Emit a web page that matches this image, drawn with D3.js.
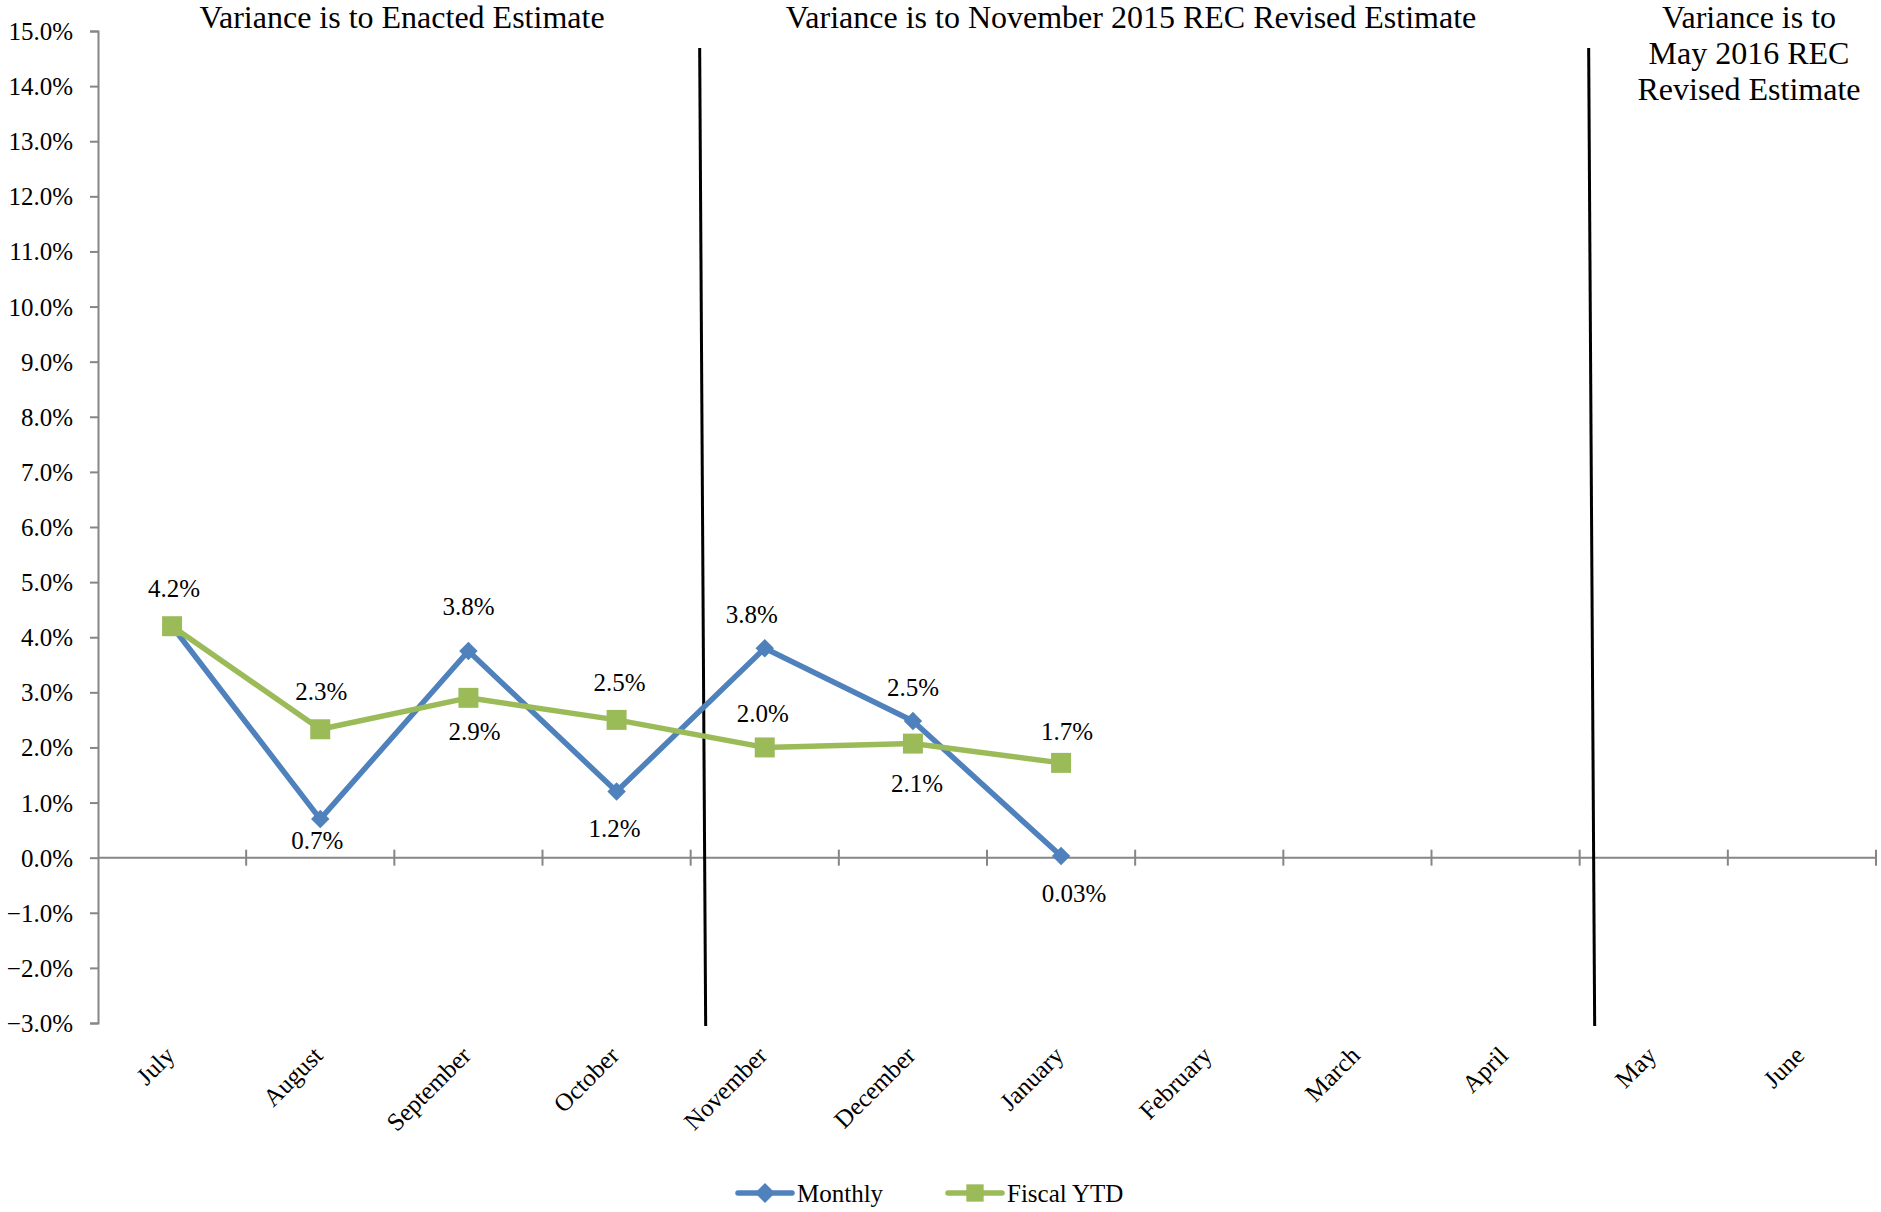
<!DOCTYPE html>
<html>
<head>
<meta charset="utf-8">
<script src="https://cdn.jsdelivr.net/npm/d3@7"></script>
<style>
  html, body { margin: 0; padding: 0; background: #fff; }
  svg text { font-family: "Liberation Serif", "Times New Roman", Times, serif; fill: #000; }
</style>
</head>
<body>
<svg id="chart" width="1881" height="1212"></svg>
<script>
// ---------- data ----------
const months = ["July", "August", "September", "October", "November", "December",
                "January", "February", "March", "April", "May", "June"];
const monthlyValues = [4.2, 0.7, 3.75, 1.2, 3.8, 2.48, 0.03];
const fiscalYTDValues = [4.2, 2.33, 2.9, 2.5, 2.0, 2.07, 1.72];
const monthlyLabels = ["4.2%", "0.7%", "3.8%", "1.2%", "3.8%", "2.5%", "0.03%"];
const fiscalYTDLabels = [null, "2.3%", "2.9%", "2.5%", "2.0%", "2.1%", "1.7%"];
const yTickValues = [-3, -2, -1, 0, 1, 2, 3, 4, 5, 6, 7, 8, 9, 10, 11, 12, 13, 14, 15];
const seriesNames = ["Monthly", "Fiscal YTD"];
const sectionTitles = [
  ["Variance is to Enacted Estimate"],
  ["Variance is to November 2015 REC Revised Estimate"],
  ["Variance is to", "May 2016 REC", "Revised Estimate"]
];
// months after which a section boundary line is drawn
const sectionBreaks = ["October", "April"];

// ---------- layout / style (not data) ----------
const plot = { left: 98, right: 1876, top: 31, bottom: 1023 };
const blue = "#4F81BD", green = "#9BBB59", axisGray = "#868686";
// label offsets [dx, dy] of label center from point
const monthlyLabelOffsets = [[2, -38], [-3, 21], [0, -45], [-2, 37], [-13, -34], [0, -33], [13, 37]];
const fiscalLabelOffsets = [[0, 0], [1, -38], [6, 34], [3, -37], [-2, -34], [4, 40], [6, -31]];

const svg = d3.select("#chart");

const x = d3.scaleBand().domain(months).range([plot.left, plot.right]).padding(0);
const y = d3.scaleLinear().domain([-3, 15]).range([plot.bottom, plot.top]);
const cx = m => x(m) + x.bandwidth() / 2;
const fmt = d => d3.format(".1f")(d) + "%";

// ---------- y axis ----------
const yAxis = d3.axisLeft(y).tickValues(yTickValues).tickFormat(fmt).tickSize(8).tickPadding(17);
const gy = svg.append("g").attr("transform", `translate(${plot.left},0)`).call(yAxis);
gy.select(".domain").attr("stroke", axisGray).attr("stroke-width", 2);
gy.selectAll(".tick line").attr("stroke", axisGray).attr("stroke-width", 2);
gy.selectAll(".tick text").attr("font-size", 25).attr("dy", "0.34em")
  .style("font-family", '"Liberation Serif", "Times New Roman", serif').attr("fill", "#000");

// ---------- x axis (at zero) ----------
const zeroY = y(0);
const gx = svg.append("g").attr("transform", `translate(0,${zeroY})`);
gx.append("line").attr("x1", plot.left).attr("x2", plot.right)
  .attr("y1", 0).attr("y2", 0).attr("stroke", axisGray).attr("stroke-width", 2);
const boundaries = months.map(m => x(m)).concat([x(months[months.length - 1]) + x.bandwidth()]);
gx.selectAll("line.tk").data(boundaries.slice(1)).join("line").attr("class", "tk")
  .attr("x1", d => d).attr("x2", d => d).attr("y1", -8).attr("y2", 8)
  .attr("stroke", axisGray).attr("stroke-width", 2);

// category labels rotated
svg.append("g").selectAll("text").data(months).join("text")
  .attr("transform", d => `translate(${cx(d) + 4},${plot.bottom + 34}) rotate(-45)`)
  .attr("text-anchor", "end").attr("font-size", 25).text(d => d);

// ---------- section boundary lines ----------
sectionBreaks.forEach(m => {
  const bx = x(m) + x.bandwidth();
  svg.append("line")
    .attr("x1", bx + 9).attr("y1", 48)
    .attr("x2", bx + 15).attr("y2", 1026)
    .attr("stroke", "#000").attr("stroke-width", 3);
});

// ---------- section titles ----------
const titleX = [402, 1131, 1749];
sectionTitles.forEach((lines, i) => {
  const t = svg.append("text").attr("text-anchor", "middle").attr("font-size", 32);
  lines.forEach((ln, j) => {
    t.append("tspan").attr("x", titleX[i]).attr("y", 28 + j * 36).text(ln);
  });
});

// ---------- series ----------
const line = d3.line().x(d => cx(d.m)).y(d => y(d.v));
const monthlyData = monthlyValues.map((v, i) => ({ m: months[i], v, label: monthlyLabels[i], off: monthlyLabelOffsets[i] }));
const fiscalData = fiscalYTDValues.map((v, i) => ({ m: months[i], v, label: fiscalYTDLabels[i], off: fiscalLabelOffsets[i] }));

const diamond = d3.symbol(d3.symbolSquare, 170);
const square = d3.symbol(d3.symbolSquare, 400);

function drawSeries(data, color, marker, rotate) {
  const g = svg.append("g");
  g.append("path").datum(data).attr("d", line).attr("fill", "none")
    .attr("stroke", color).attr("stroke-width", 5.5).attr("stroke-linejoin", "round");
  g.selectAll("path.mk").data(data).join("path").attr("class", "mk")
    .attr("d", marker)
    .attr("transform", d => `translate(${cx(d.m)},${y(d.v)}) rotate(${rotate})`)
    .attr("fill", color);
  return g;
}
drawSeries(monthlyData, blue, diamond, 45);
drawSeries(fiscalData, green, square, 0);

// data labels
const allLabels = monthlyData.concat(fiscalData).filter(d => d.label);
svg.append("g").selectAll("text").data(allLabels).join("text")
  .attr("x", d => cx(d.m) + d.off[0])
  .attr("y", d => y(d.v) + d.off[1])
  .attr("dy", "0.34em")
  .attr("text-anchor", "middle").attr("font-size", 25).text(d => d.label);

// ---------- legend ----------
const legend = svg.append("g");
const legendItems = [
  { name: seriesNames[0], color: blue, marker: d3.symbol(d3.symbolSquare, 200), rot: 45, x0: 738 },
  { name: seriesNames[1], color: green, marker: d3.symbol(d3.symbolSquare, 300), rot: 0, x0: 948 }
];
const ly = 1193;
legendItems.forEach(it => {
  legend.append("line").attr("x1", it.x0).attr("x2", it.x0 + 54).attr("y1", ly).attr("y2", ly)
    .attr("stroke", it.color).attr("stroke-width", 5.5).attr("stroke-linecap", "round");
  legend.append("path").attr("d", it.marker()).attr("fill", it.color)
    .attr("transform", `translate(${it.x0 + 27},${ly}) rotate(${it.rot})`);
  legend.append("text").attr("x", it.x0 + 59).attr("y", ly + 9).attr("font-size", 25).text(it.name);
});
</script>
</body>
</html>
